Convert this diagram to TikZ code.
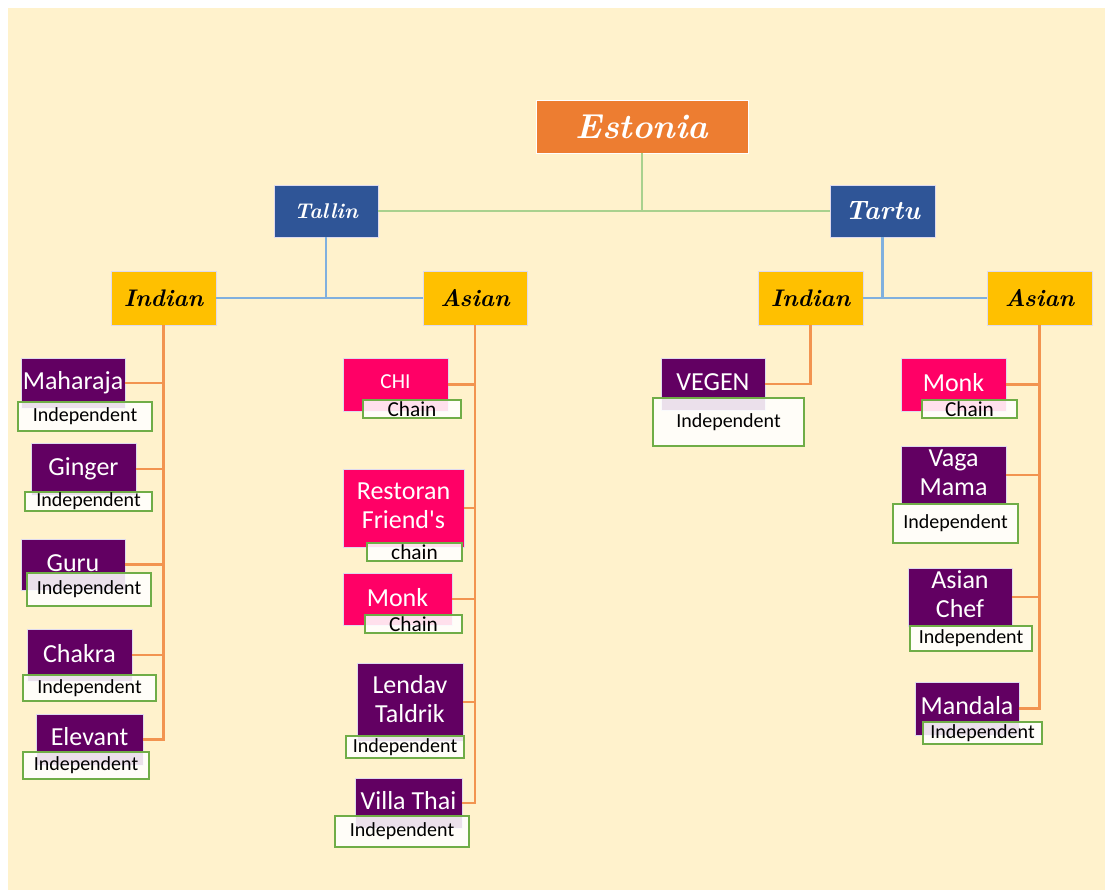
\documentclass[tikz,border=0pt]{standalone}
\usepackage{fontspec}
\newfontfamily\carl{Carlito}[Ligatures=TeXOff]
\definecolor{cream}{RGB}{255,242,204}
\definecolor{estorange}{RGB}{237,125,49}
\definecolor{cityblue}{RGB}{47,85,151}
\definecolor{kyellow}{RGB}{255,192,0}
\definecolor{rpurple}{RGB}{98,0,98}
\definecolor{rpink}{RGB}{255,0,102}
\definecolor{conorange}{RGB}{242,148,80}
\definecolor{conblue}{RGB}{128,176,222}
\definecolor{congreen}{RGB}{169,209,142}
\definecolor{tagreen}{RGB}{112,173,71}
\definecolor{rimline}{RGB}{222,218,238}
\newcommand\rbox[7]{\node[#1, minimum width={(#5-#3)*0.75pt}, minimum height={(#6-#4)*0.75pt}] (#2) at ({(#3+#5)/2},{(#4+#6)/2}) {#7};}
\newcommand\lift[2]{\raisebox{#1}{#2}}
\newcommand\twolines[3]{\raisebox{#1}{\begin{tabular}{@{}c@{}}#2\\#3\end{tabular}}}
\begin{document}
\begin{tikzpicture}[x=0.75pt,y=-0.75pt,
  basebox/.style={inner sep=0pt, outer sep=0pt, draw=rimline, line width=0.6pt, align=center},
  topbox/.style={basebox, fill=estorange, draw=white, text=white, font=\fontsize{26}{30}\selectfont\bfseries\itshape},
  citybox/.style={basebox, fill=cityblue, text=white, font=\fontsize{#1}{20}\selectfont\bfseries\itshape},
  kindbox/.style={basebox, fill=kyellow, text=black, font=\fontsize{18}{20}\selectfont\bfseries\itshape},
  purplebox/.style={basebox, fill=rpurple, text=white, font=\carl\fontsize{19.5}{21.75}\selectfont},
  pinkbox/.style={basebox, fill=rpink, text=white, font=\carl\fontsize{19.5}{21.75}\selectfont},
  tagbox/.style={inner sep=0pt, outer sep=0pt, draw=tagreen, line width=1.1pt, fill=white, fill opacity=0.88, text opacity=1, text=black, font=\carl\fontsize{15}{17}\selectfont},
  chainbox/.style={tagbox, font=\carl\fontsize{16}{17}\selectfont},
  oline/.style={draw=conorange, line width=1.6pt},
  bline/.style={draw=conblue, line width=1.6pt},
  gline/.style={draw=congreen, line width=1.6pt}]
\useasboundingbox (0,0) rectangle (1105,891);
\fill[cream] (8,8) rectangle (1105,890);

% top levels
\rbox{topbox}{estonia}{536}{100}{748}{153}{Estonia}
\rbox{citybox=16}{tallin}{274}{185}{378}{237}{Tallin}
\rbox{citybox=20}{tartu}{830}{185}{935}{237}{Tartu}
\rbox{kindbox}{tiind}{111}{271}{216}{325}{Indian}
\rbox{kindbox}{tiasi}{423}{271}{527}{325}{Asian}
\rbox{kindbox}{taind}{758}{271}{863}{325}{Indian}
\rbox{kindbox}{taasi}{987}{271}{1092}{325}{Asian}

% Tallin Indian
\rbox{purplebox}{maharaja}{21}{358}{125}{408}{\lift{1.5pt}{Maharaja}}
\rbox{tagbox}{maharajat}{18}{402}{152}{431}{Independent}
\rbox{purplebox}{ginger}{31}{443}{136}{495}{\lift{2.5pt}{Ginger}}
\rbox{tagbox}{gingert}{25}{492}{152}{511}{Independent}
\rbox{purplebox}{guru}{21}{539}{125}{590}{\lift{2pt}{Guru}}
\rbox{tagbox}{gurut}{27}{573}{151}{606}{Independent}
\rbox{purplebox}{chakra}{27}{629}{132}{681}{\lift{2.5pt}{Chakra}}
\rbox{tagbox}{chakrat}{23}{675}{156}{701}{Independent}
\rbox{purplebox}{elevant}{36}{714}{143}{765}{\lift{4.5pt}{Elevant}}
\rbox{tagbox}{elevantt}{23}{752}{149}{779}{Independent}

% Tallin Asian
\rbox{pinkbox, font=\carl\fontsize{16}{18}\selectfont}{chi}{343}{358}{448}{411}{\lift{4pt}{CHI}}
\rbox{chainbox}{chit}{363}{400}{461}{418}{Chain}
\rbox{pinkbox}{restoran}{343}{469}{464}{547}{\twolines{2.5pt}{Restoran}{Friend's}}
\rbox{chainbox}{restorant}{367}{543}{462}{561}{chain}
\rbox{pinkbox}{monka}{343}{573}{452}{625}{\lift{3pt}{Monk}}
\rbox{chainbox}{monkat}{365}{615}{462}{633}{Chain}
\rbox{purplebox}{lendav}{357}{663}{463}{741}{\twolines{0.5pt}{Lendav}{Taldrik}}
\rbox{tagbox}{lendavt}{346}{736}{464}{758}{Independent}
\rbox{purplebox}{villa}{355}{778}{462}{828}{\lift{3.5pt}{Villa Thai}}
\rbox{tagbox}{villat}{335}{816}{469}{847}{Independent}

% Tartu Indian
\rbox{purplebox}{vegen}{661}{358}{765}{410}{\lift{3pt}{VEGEN}}
\rbox{tagbox}{vegent}{653}{398}{804}{446}{Independent}

% Tartu Asian
\rbox{pinkbox}{monkb}{901}{358}{1006}{411}{\lift{3.5pt}{Monk}}
\rbox{chainbox}{monkbt}{922}{400}{1017}{418}{Chain}
\rbox{purplebox}{vaga}{901}{448}{1006}{502}{\twolines{4.5pt}{Vaga}{Mama}}
\rbox{tagbox}{vagat}{893}{504}{1018}{543}{Independent}
\rbox{purplebox}{chef}{908}{571}{1012}{623}{\twolines{3.5pt}{Asian}{Chef}}
\rbox{tagbox}{cheft}{910}{626}{1032}{651}{Independent}
\rbox{purplebox}{mandala}{915}{682}{1019}{735}{\lift{4.5pt}{Mandala}}
\rbox{tagbox}{mandalat}{923}{722}{1042}{744}{Independent}

% connectors: green
\draw[gline] (estonia.south) -- (estonia.south |- tallin.east);
\draw[gline] (tallin.east) -- (tartu.west);
% blue
\draw[bline] (tallin.south) -- (tallin.south |- tiind.east);
\draw[bline] (tiind.east) -- (tiasi.west);
\draw[bline] (tartu.south) -- (tartu.south |- taind.east);
\draw[bline] (taind.east) -- (taasi.west);
% orange: Tallin Indian
\draw[oline] (tiind.south) -- (tiind.south |- elevant.east) -- (elevant.east);
\foreach \n in {maharaja,ginger,guru,chakra}
  \draw[oline] (\n.east) -- (\n.east -| tiind.south);
% orange: Tallin Asian
\draw[oline] (tiasi.south) -- (tiasi.south |- villa.east) -- (villa.east);
\foreach \n in {chi,restoran,monka,lendav}
  \draw[oline] (\n.east) -- (\n.east -| tiasi.south);
% orange: Tartu Indian
\draw[oline] (taind.south) -- (taind.south |- vegen.east) -- (vegen.east);
% orange: Tartu Asian
\draw[oline] (taasi.south) -- (taasi.south |- mandala.east) -- (mandala.east);
\foreach \n in {monkb,vaga,chef}
  \draw[oline] (\n.east) -- (\n.east -| taasi.south);
\end{tikzpicture}
\end{document}
